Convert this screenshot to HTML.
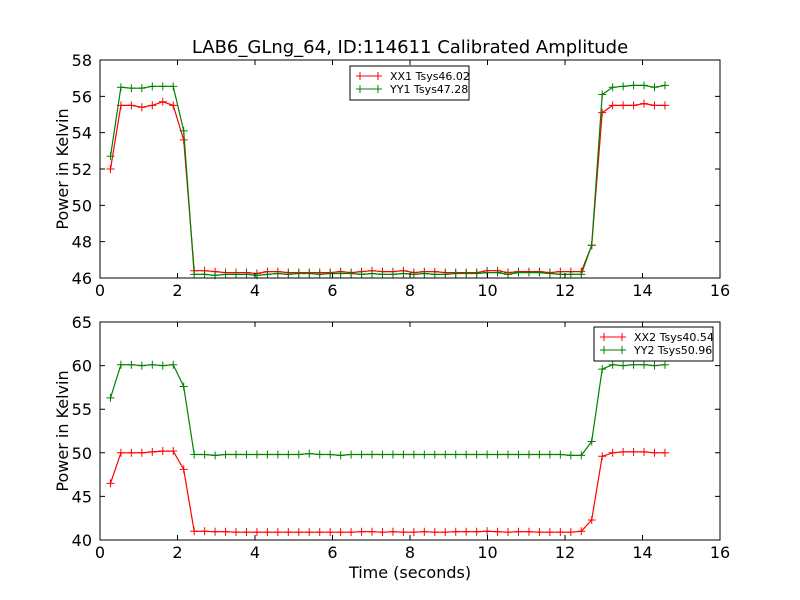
<!DOCTYPE html>
<html><head><meta charset="utf-8"><style>
body{margin:0;background:#fff}
svg{display:block;font-family:"DejaVu Sans","Liberation Sans",sans-serif}
</style></head><body>
<svg id="c" width="800" height="600">
<rect width="800" height="600" fill="#fff"/>
<text x="410" y="53" font-size="18" text-anchor="middle">LAB6_GLng_64, ID:114611 Calibrated Amplitude</text>
</svg>
<script>
const xx1 = [52.0,55.5,55.5,55.4,55.5,55.7,55.5,53.6,46.4,46.4,46.35,46.3,46.3,46.3,46.25,46.35,46.35,46.3,46.3,46.3,46.3,46.3,46.35,46.3,46.35,46.4,46.35,46.35,46.4,46.3,46.35,46.35,46.3,46.3,46.3,46.3,46.4,46.4,46.3,46.35,46.35,46.35,46.3,46.35,46.35,46.35,47.8,55.1,55.5,55.5,55.5,55.6,55.5,55.5];
const yy1 = [52.7,56.5,56.45,56.45,56.55,56.55,56.55,54.1,46.2,46.2,46.15,46.2,46.2,46.2,46.15,46.2,46.25,46.2,46.25,46.25,46.2,46.25,46.25,46.25,46.2,46.25,46.2,46.2,46.25,46.2,46.25,46.2,46.2,46.25,46.25,46.25,46.3,46.3,46.2,46.3,46.3,46.3,46.25,46.2,46.2,46.2,47.8,56.1,56.5,56.55,56.6,56.6,56.5,56.6];
const xx2 = [46.5,50.0,50.0,50.0,50.1,50.2,50.2,48.1,41.0,41.0,40.95,40.95,40.9,40.9,40.9,40.9,40.9,40.9,40.9,40.9,40.9,40.9,40.9,40.9,40.95,40.95,40.9,40.95,40.9,40.9,40.95,40.9,40.9,40.95,40.95,40.95,41.0,40.95,40.9,40.95,40.95,40.9,40.9,40.9,40.9,41.0,42.3,49.6,50.0,50.1,50.1,50.1,50.0,50.0];
const yy2 = [56.3,60.1,60.1,60.0,60.1,60.0,60.1,57.6,49.8,49.8,49.7,49.8,49.8,49.8,49.8,49.8,49.8,49.8,49.8,49.9,49.8,49.8,49.7,49.8,49.8,49.8,49.8,49.8,49.8,49.8,49.8,49.8,49.8,49.8,49.8,49.8,49.8,49.8,49.8,49.8,49.8,49.8,49.8,49.8,49.7,49.7,51.3,59.6,60.1,60.0,60.1,60.1,60.0,60.1];
const xTicks = [0,2,4,6,8,10,12,14,16];
const yTicksTop = [46,48,50,52,54,56,58];
const yTicksBot = [40,45,50,55,60,65];
const dt = 0.27;
const NS='http://www.w3.org/2000/svg';
const svg=document.getElementById('c');
function mk(tag,attrs,parent){const e=document.createElementNS(NS,tag);for(const k in attrs)e.setAttribute(k,attrs[k]);(parent||svg).appendChild(e);return e;}
const L=100,R=720;
function draw(top,bot,ymin,ymax,yTicks,series,lg,name,showXLabel){
  const sx=v=>L+v/16*(R-L);
  const sy=v=>bot-(v-ymin)/(ymax-ymin)*(bot-top);
  const g=mk('g',{});
  
  
  series.forEach(s=>{
    const ts=s.vals.map((v,i)=>dt*(i+1));
    const d=s.vals.map((v,i)=>(i?'L':'M')+sx(ts[i]).toFixed(1)+' '+sy(v).toFixed(1)).join(' ');
    const p=mk('path',{d:d,fill:'none',stroke:s.color,'stroke-width':1.2},g);
    
    
    s.vals.forEach((v,i)=>{
      const x=sx(ts[i]),y=sy(v);
      const m=mk('path',{d:`M${x-4} ${y}H${x+4}M${x} ${y-4}V${y+4}`,stroke:s.color,'stroke-width':1},g);
      
      
    });
  });
  const fr=mk('rect',{x:L,y:top,width:R-L,height:bot-top,fill:'none',stroke:'#000','stroke-width':1},g);
  
  
  xTicks.forEach(t=>{
    const x=sx(t);
    mk('path',{d:`M${x} ${bot}v-5M${x} ${top}v5`,stroke:'#000'},g);
    const tx=mk('text',{x:x,y:bot+18,'font-size':16,'text-anchor':'middle'},g);
    tx.textContent=t;
    
    
  });
  yTicks.forEach(t=>{
    const y=sy(t);
    mk('path',{d:`M${L} ${y}h5M${R} ${y}h-5`,stroke:'#000'},g);
    const tx=mk('text',{x:L-8,y:y+6,'font-size':16,'text-anchor':'end'},g);
    tx.textContent=t;
    
    
  });
  const yl=mk('text',{x:0,y:0,'font-size':16,'text-anchor':'middle',transform:`translate(68 ${(top+bot)/2}) rotate(-90)`},g);
  yl.textContent='Power in Kelvin';
  
  
  const lgG=mk('g',{},g);
  
  
  mk('rect',{x:lg.x,y:lg.y,width:119,height:34,fill:'#fff',stroke:'#000'},lgG);
  series.forEach((s,i)=>{
    const y=lg.y+10+i*13;
    mk('path',{d:`M${lg.x+6} ${y}h26M${lg.x+10} ${y-4}v8M${lg.x+28} ${y-4}v8`,stroke:s.color},lgG);
    const t=mk('text',{x:lg.x+40,y:y+4,'font-size':11},lgG);
    t.textContent=s.label;
    
    
  });
  if(showXLabel){
    const xl=mk('text',{x:410,y:578,'font-size':16,'text-anchor':'middle'},g);
    xl.textContent='Time (seconds)';
    
    
  }
}
draw(60,278,46,58,yTicksTop,[{vals:xx1,color:'#ff0000',name:'xx1',label:'XX1 Tsys46.02'},{vals:yy1,color:'#008000',name:'yy1',label:'YY1 Tsys47.28'}],{x:350,y:66},'top-panel',false);
draw(322,540,40,65,yTicksBot,[{vals:xx2,color:'#ff0000',name:'xx2',label:'XX2 Tsys40.54'},{vals:yy2,color:'#008000',name:'yy2',label:'YY2 Tsys50.96'}],{x:594,y:327},'bottom-panel',true);
</script>
</body></html>
